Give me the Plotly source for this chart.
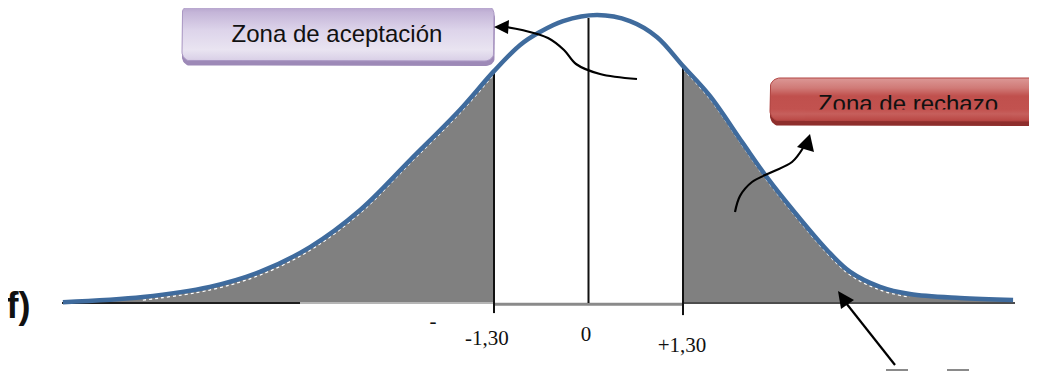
import numpy as np
import plotly.graph_objects as go

# valores críticos y etiquetas del eje
crit_vals = [-1.30, 0.0, 1.30]
tick_text = ["-1,30", "0", "+1,30"]

# curva normal (x en unidades z, altura relativa al pico)
curve_z = [-7.23, -6.13, -5.21, -4.52, -3.83, -3.14, -2.45, -1.77, -1.30, -0.94, -0.67,
           -0.35, 0.12, 0.57, 0.94, 1.30, 1.67, 2.12, 2.45, 2.81, 3.28, 3.60, 4.01, 4.42, 5.11, 5.84]
curve_h = [0.003, 0.021, 0.056, 0.108, 0.194, 0.323, 0.497, 0.670, 0.805, 0.896, 0.941,
           0.979, 1.000, 0.979, 0.924, 0.823, 0.719, 0.556, 0.438, 0.323, 0.184, 0.108, 0.056, 0.031, 0.017, 0.010]

# altura de las líneas verticales
line_tops = [0.805, 0.99, 0.823]
line_bottoms = [-0.035, 0.0, -0.042]

box_labels = ["Zona de aceptación", "Zona de rechazo"]
panel_label = "f)"

W, H = 1037, 373
OFF = 8  # margen por defecto del <body>
# conversión píxel de la página -> coordenadas de datos (para adornos)
X0, SX = 588.5, 72.7
Y0, SY = 303.0, 288.0


def px(x):
    return (x - X0) / SX


def py(y):
    return (Y0 - y) / SY


def rounded_rect(x0, y0, x1, y1, r, n=10):
    pts = []
    corners = [(x1 - r, y0 + r, -90, 0), (x1 - r, y1 - r, 0, 90),
               (x0 + r, y1 - r, 90, 180), (x0 + r, y0 + r, 180, 270)]
    for cx, cy, a0, a1 in corners:
        for a in np.linspace(np.radians(a0), np.radians(a1), n):
            pts.append((cx + r * np.cos(a), cy + r * np.sin(a)))
    pts.append(pts[0])
    return [px(p[0]) for p in pts], [py(p[1]) for p in pts]


def add_poly(fig, xs, ys, color, line_color=None, grad=None, y_lo=None, y_hi=None):
    kw = {}
    if grad is not None:
        kw["fillgradient"] = dict(type="vertical", colorscale=grad,
                                  start=py(y_lo), stop=py(y_hi))
    fig.add_trace(go.Scatter(
        x=xs, y=ys, mode="lines", fill="toself", fillcolor=color,
        line=dict(color=line_color or color, width=1 if line_color else 0),
        hoverinfo="skip", showlegend=False, **kw))


def add_line(fig, xs, ys, color, width, shape="linear", dash="solid"):
    fig.add_trace(go.Scatter(
        x=xs, y=ys, mode="lines",
        line=dict(color=color, width=width, shape=shape, dash=dash),
        hoverinfo="skip", showlegend=False))


def add_text(fig, x, y, text, family, size, bold=False, color="#111111"):
    fig.add_trace(go.Scatter(
        x=[x], y=[y], mode="text", text=[text], textposition="middle center",
        textfont=dict(family=family, size=size, color=color,
                      weight="bold" if bold else "normal"),
        hoverinfo="skip", showlegend=False))


fig = go.Figure()

z = np.array(curve_z)
h = np.array(curve_h)
left = z <= crit_vals[0]
right = z >= crit_vals[2]

# zonas de rechazo sombreadas
for mask in (left, right):
    fig.add_trace(go.Scatter(
        x=z[mask], y=h[mask], mode="lines", fill="tozeroy",
        fillcolor="#808080", line=dict(color="#808080", width=0, shape="spline"),
        hoverinfo="skip", showlegend=False))
    # borde blanco punteado bajo la curva
    m = mask & (h > 0.02)
    add_line(fig, z[m], h[m] - 0.011, "white", 1.3, shape="spline", dash="dot")

# línea base
add_line(fig, [px(62), px(300)], [0, 0], "#1e1e1e", 2)
add_line(fig, [px(300), px(494)], [0, 0], "#b5b5b5", 2)
add_line(fig, [px(494), px(683)], [-0.004, -0.004], "#8a8a8a", 3)
add_line(fig, [px(683), px(1015)], [0, 0], "#4d4d4d", 2)

# líneas verticales en los valores críticos
for xv, top, bot in zip(crit_vals, line_tops, line_bottoms):
    add_line(fig, [xv, xv], [bot, top], "#111111", 2)

# curva
add_line(fig, z, h, "#3f6b9d", 4.5, shape="spline")

# etiquetas del eje
label_dx = [-7, -2.5, -1]          # desplazamiento en px
label_base = [345, 341, 352]       # línea base en px
for xv, t, dx, b in zip(crit_vals, tick_text, label_dx, label_base):
    add_text(fig, xv + dx / SX, py(b - 0.25 * 21), t, "Liberation Serif", 21)
add_text(fig, px(433), py(328 - 0.25 * 21), "-", "Liberation Serif", 21)

# etiqueta del panel
add_text(fig, px(18.5), py(318 - 0.25 * 36), panel_label, "Liberation Sans", 36, bold=True)

# caja morada
xs, ys = rounded_rect(182, 9, 495, 66, 9)
add_poly(fig, xs, ys, "#9d89b7")
xs, ys = rounded_rect(182, 5, 494, 61, 9)
add_poly(fig, xs, ys, "#ddd4ea", line_color="#ab98c4",
         grad=[[0, "#d8cee6"], [0.2, "#e9e4f1"], [0.55, "#ddd4ea"],
               [0.87, "#c4b5d8"], [1, "#b09dc8"]], y_lo=61, y_hi=5)
add_text(fig, px(337), py(42 - 0.25 * 24), box_labels[0], "Liberation Sans", 24)

# caja roja
xs, ys = rounded_rect(770, 80, 1050, 126, 10)
add_poly(fig, xs, ys, "#8e2e2c")
red_grad = [[0, "#b94744"], [0.163, "#c65f5c"], [0.279, "#c2524f"],
            [0.581, "#c0504d"], [0.767, "#d07a77"], [1, "#dc9896"]]
xs, ys = rounded_rect(770, 78, 1050, 121, 10)
add_poly(fig, xs, ys, "#c0504d", line_color="#b14542", grad=red_grad, y_lo=121, y_hi=78)
add_text(fig, px(908), py(112 - 0.25 * 24), box_labels[1], "Liberation Sans", 24)
# banda que recorta la parte baja del texto
band_x = [px(805), px(1012), px(1012), px(805), px(805)]
band_y = [py(109.5), py(109.5), py(120.5), py(120.5), py(109.5)]
add_poly(fig, band_x, band_y, "#c2524f",
         grad=[[0, "#b94744"], [0.6, "#c65f5c"], [1, "#c2524f"]], y_lo=120.5, y_hi=109.5)

# flechas
arrow1 = [(637, 79), (600, 74), (576, 64), (564, 50), (548, 38), (522, 30), (506, 27)]
add_line(fig, [px(a) for a, _ in arrow1], [py(b) for _, b in arrow1], "#000000", 2.2, shape="spline")
add_poly(fig, [px(494), px(509), px(508), px(494)], [py(27), py(20), py(34), py(27)], "#000000")

arrow2 = [(735, 212), (740, 196), (752, 182), (772, 172), (792, 162), (803, 148)]
add_line(fig, [px(a) for a, _ in arrow2], [py(b) for _, b in arrow2], "#000000", 2.2, shape="spline")
add_poly(fig, [px(810), px(797), px(814), px(810)], [py(134), py(147), py(152), py(134)], "#000000")

add_line(fig, [px(895), px(846)], [py(365), py(303)], "#000000", 2.2)
add_poly(fig, [px(838), px(841), px(854), px(838)], [py(291), py(309), py(300), py(291)], "#000000")

# guiones grises abajo a la derecha
add_line(fig, [px(886), px(908)], [py(370), py(370)], "#8a8a8a", 2)
add_line(fig, [px(947), px(969)], [py(370), py(370)], "#8a8a8a", 2)

# la figura empieza 8 px dentro de la página
fig.update_layout(
    width=W - OFF, height=H - OFF,
    margin=dict(l=0, r=0, t=0, b=0),
    paper_bgcolor="white", plot_bgcolor="white",
    showlegend=False,
    xaxis=dict(range=[px(OFF), px(W)], visible=False, fixedrange=True),
    yaxis=dict(range=[py(H), py(OFF)], visible=False, fixedrange=True),
)

fig.write_html("out.html")
